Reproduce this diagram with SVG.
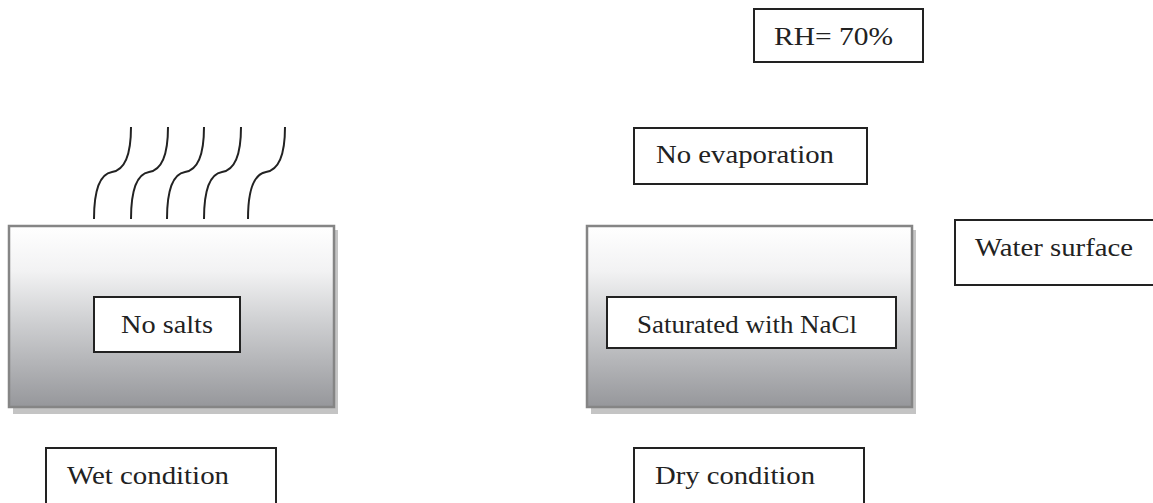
<svg xmlns="http://www.w3.org/2000/svg" width="1153" height="503" viewBox="0 0 1153 503">
<defs>
<linearGradient id="grad" x1="0" y1="0" x2="0" y2="1">
<stop offset="0" stop-color="#ffffff"/>
<stop offset="0.25" stop-color="#f2f2f3"/>
<stop offset="0.5" stop-color="#d2d3d5"/>
<stop offset="1" stop-color="#96979b"/>
</linearGradient>
<path id="wave" d="M0,92 C0,62 6,47 18,45 C31,43 37,28 37,0"/>
</defs>
<style>
.lbl{fill:#fff;stroke:#222;stroke-width:2}
.big{fill:url(#grad);stroke:#858585;stroke-width:2.5}
.shadow{fill:#c4c4c4}
.t{font-family:"Liberation Serif","Times New Roman",serif;font-size:26px;fill:#222}
.w{fill:none;stroke:#222;stroke-width:2}
</style>
<rect width="1153" height="503" fill="#fff"/>

<g id="vapor">
<use href="#wave" class="w" x="94" y="127"/>
<use href="#wave" class="w" x="131" y="127"/>
<use href="#wave" class="w" x="167" y="127"/>
<use href="#wave" class="w" x="204" y="127"/>
<use href="#wave" class="w" x="248" y="127"/>
</g>

<g id="wet-block">
<rect class="shadow" x="13" y="230" width="325" height="184"/>
<rect class="big" x="9" y="226" width="325" height="181"/>
</g>
<g id="no-salts">
<rect class="lbl" x="94" y="297" width="146" height="55"/>
<text class="t" x="121" y="333" textLength="92" lengthAdjust="spacingAndGlyphs">No salts</text>
</g>
<g id="wet-condition">
<rect class="lbl" x="46" y="448" width="230" height="70"/>
<text class="t" x="67" y="484" textLength="162" lengthAdjust="spacingAndGlyphs">Wet condition</text>
</g>

<g id="dry-block">
<rect class="shadow" x="591" y="230" width="325" height="184"/>
<rect class="big" x="587" y="226" width="325" height="181"/>
</g>
<g id="saturated">
<rect class="lbl" x="607" y="297" width="289" height="51"/>
<text class="t" x="637" y="333" textLength="220" lengthAdjust="spacingAndGlyphs">Saturated with NaCl</text>
</g>
<g id="dry-condition">
<rect class="lbl" x="634" y="448" width="230" height="70"/>
<text class="t" x="655" y="484" textLength="160" lengthAdjust="spacingAndGlyphs">Dry condition</text>
</g>

<g id="rh">
<rect class="lbl" x="754" y="9" width="169" height="53"/>
<text class="t" x="774" y="45" textLength="119" lengthAdjust="spacingAndGlyphs">RH= 70%</text>
</g>
<g id="no-evaporation">
<rect class="lbl" x="634" y="128" width="233" height="56"/>
<text class="t" x="656" y="163" textLength="178" lengthAdjust="spacingAndGlyphs">No evaporation</text>
</g>
<g id="water-surface">
<rect class="lbl" x="955" y="220" width="220" height="65"/>
<text class="t" x="975" y="256" textLength="158" lengthAdjust="spacingAndGlyphs">Water surface</text>
</g>
</svg>
